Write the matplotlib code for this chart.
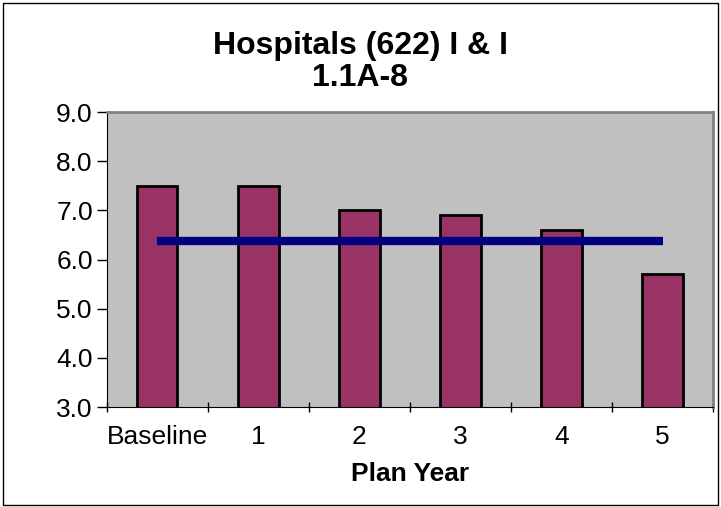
import matplotlib
matplotlib.use("Agg")
import matplotlib.pyplot as plt
from matplotlib.patches import Rectangle

plt.rcParams['font.family'] = ['Liberation Sans', 'DejaVu Sans']

categories = ['Baseline', '1', '2', '3', '4', '5']
values = [7.5, 7.5, 7.0, 6.9, 6.6, 5.7]
target = [6.38, 6.38, 6.38, 6.38, 6.38, 6.38]
y_ticks = [3.0, 4.0, 5.0, 6.0, 7.0, 8.0, 9.0]

fig = plt.figure(figsize=(7.21, 5.07), dpi=100)
ax = fig.add_axes([0.148, 0.197, 0.841, 0.582])
ax.set_facecolor('#C0C0C0')

x = list(range(len(categories)))
ax.bar(x, values, width=0.4, color='#993366', edgecolor='black', linewidth=2, bottom=0,
       zorder=2)
ax.plot(x, target, color='#000080', linewidth=6, solid_capstyle='butt', zorder=3)

ax.set_xlim(-0.5, len(categories) - 0.5)
ax.set_ylim(3.0, 9.0)
ax.set_yticks(y_ticks)
ax.set_yticklabels([f'{v:.1f}' for v in y_ticks], fontsize=19)

# category labels sit between the boundary ticks
ax.set_xticks([i - 0.5 for i in range(len(categories) + 1)])
ax.set_xticklabels([])
ax.set_xticks(x, minor=True)
ax.set_xticklabels(categories, minor=True, fontsize=19)
ax.tick_params(axis='x', which='minor', length=0, pad=13)
ax.tick_params(axis='x', which='major', length=7, direction='inout', width=1)
ax.tick_params(axis='y', length=7, direction='out', width=1, pad=3)

for side in ['top', 'right']:
    ax.spines[side].set_color('#808080')
    ax.spines[side].set_linewidth(2)
ax.spines['left'].set_color('black')
ax.spines['bottom'].set_color('black')

ax.set_xlabel('Plan Year', fontsize=19, fontweight='bold', labelpad=9)
fig.text(0.5, 0.91, 'Hospitals (622) I & I', ha='center', va='center',
         fontsize=23, fontweight='bold')
fig.text(0.5, 0.847, '1.1A-8', ha='center', va='center',
         fontsize=23, fontweight='bold')

fig.patches.append(Rectangle((0.004, 0.004), 0.992, 0.99, transform=fig.transFigure,
                             fill=False, edgecolor='black', linewidth=1))

fig.savefig('out.png', dpi=100)
